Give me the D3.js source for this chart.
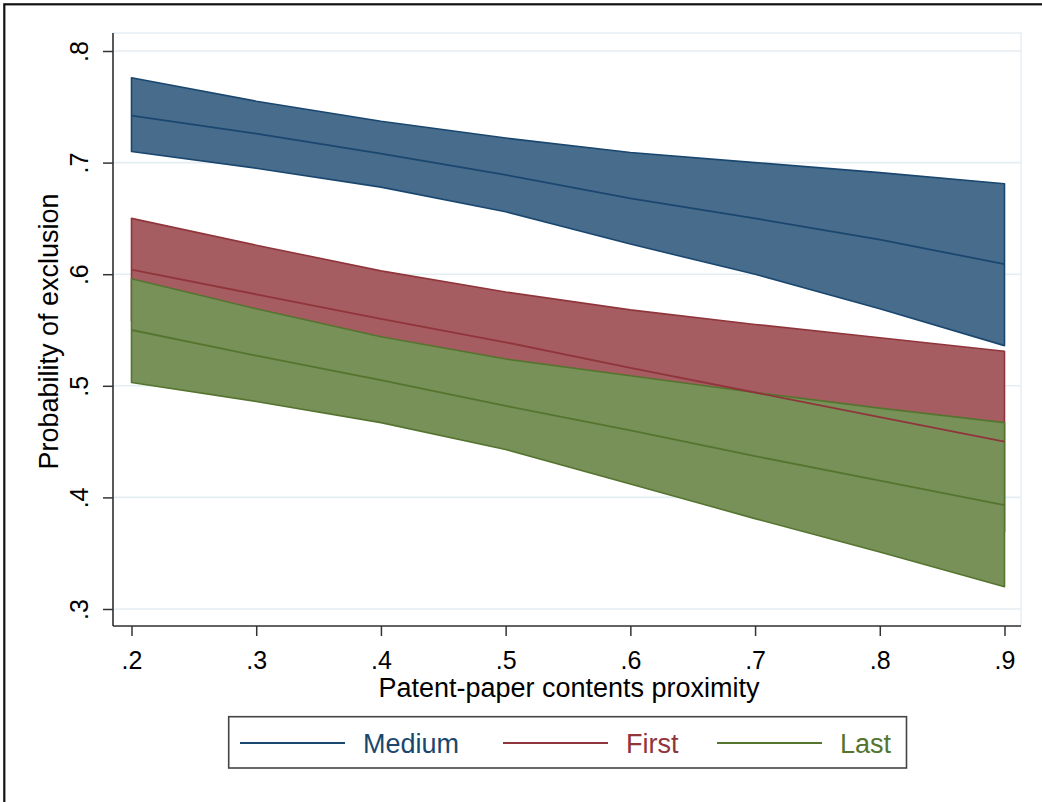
<!DOCTYPE html>
<html>
<head>
<meta charset="utf-8">
<script src="https://cdn.jsdelivr.net/npm/d3@7/dist/d3.min.js"></script>
<style>
  html, body { margin: 0; padding: 0; background: #ffffff; }
  svg { display: block; font-family: "Liberation Sans", Arial, sans-serif; }
</style>
</head>
<body>
<svg id="chart" width="1042" height="802"></svg>
<script>
// Predictive margins of exclusion by author position
const proximity = [0.2, 0.3, 0.4, 0.5, 0.6, 0.7, 0.8, 0.9];

const mediumFit   = [0.742, 0.726, 0.708, 0.689, 0.668, 0.650, 0.631, 0.609];
const mediumUpper = [0.776, 0.755, 0.737, 0.722, 0.709, 0.700, 0.691, 0.681];
const mediumLower = [0.710, 0.695, 0.678, 0.656, 0.627, 0.600, 0.569, 0.536];

const firstFit   = [0.604, 0.582, 0.560, 0.539, 0.516, 0.494, 0.472, 0.450];
const firstUpper = [0.650, 0.626, 0.603, 0.584, 0.568, 0.555, 0.543, 0.531];
const firstLower = [0.558, 0.539, 0.516, 0.494, 0.464, 0.432, 0.399, 0.369];

const lastFit   = [0.550, 0.527, 0.505, 0.482, 0.460, 0.437, 0.415, 0.393];
const lastUpper = [0.596, 0.569, 0.544, 0.524, 0.509, 0.494, 0.480, 0.467];
const lastLower = [0.503, 0.486, 0.467, 0.443, 0.412, 0.381, 0.351, 0.320];

const seriesNames = ["Medium", "First", "Last"];
const lineColors  = ["#1a476f", "#90353b", "#55752f"];
const fillColors  = ["#486c8c", "#a65d62", "#779159"];

const xTicks = [0.2, 0.3, 0.4, 0.5, 0.6, 0.7, 0.8, 0.9];
const yTicks = [0.3, 0.4, 0.5, 0.6, 0.7, 0.8];
const xTitle = "Patent-paper contents proximity";
const yTitle = "Probability of exclusion";

const series = [
  { fit: mediumFit, lo: mediumLower, hi: mediumUpper },
  { fit: firstFit,  lo: firstLower,  hi: firstUpper },
  { fit: lastFit,   lo: lastLower,   hi: lastUpper }
];

const svg = d3.select("#chart");
const region = { left: 113, right: 1021, top: 33, bottom: 626 };

const x = d3.scaleLinear().domain([0.2, 0.9]).range([131.5, 1004.5]);
const y = d3.scaleLinear().domain([0.3, 0.8]).range([609, 51]);
const fmt = v => d3.format(".1f")(v).replace(/^0/, "");

// Outer frame
svg.append("rect")
  .attr("x", 4.3).attr("y", 4.3)
  .attr("width", 1100).attr("height", 900)
  .attr("fill", "none").attr("stroke", "#111").attr("stroke-width", 2.2);

// Plot region outline
svg.append("rect")
  .attr("x", region.left).attr("y", region.top)
  .attr("width", region.right - region.left)
  .attr("height", region.bottom - region.top)
  .attr("fill", "#ffffff").attr("stroke", "#e6eef2").attr("stroke-width", 1.5);

// Gridlines
svg.append("g").selectAll("line").data(yTicks).join("line")
  .attr("x1", region.left).attr("x2", region.right)
  .attr("y1", d => y(d)).attr("y2", d => y(d))
  .attr("stroke", "#e4edf1").attr("stroke-width", 1.6);

// Confidence bands
const band = d3.area()
  .x((d, i) => x(proximity[i]))
  .y0(d => y(d.lo))
  .y1(d => y(d.hi));

series.forEach((s, k) => {
  const pts = proximity.map((p, i) => ({ lo: s.lo[i], hi: s.hi[i] }));
  const g = svg.append("g");
  g.append("path").datum(pts)
    .attr("d", band)
    .attr("fill", fillColors[k]);
  // band outline drawn as a closed polygon
  const outline = proximity.map((p, i) => [x(p), y(s.hi[i])])
    .concat(proximity.slice().reverse().map((p, j) => {
      const i = proximity.length - 1 - j;
      return [x(p), y(s.lo[i])];
    }));
  g.append("path")
    .attr("d", d3.line()(outline) + "Z")
    .attr("fill", "none")
    .attr("stroke", lineColors[k])
    .attr("stroke-width", 1.6)
    .attr("stroke-linejoin", "round");
});

// Fitted lines
const fitLine = d3.line().x((d, i) => x(proximity[i])).y(d => y(d));
series.forEach((s, k) => {
  svg.append("path").datum(s.fit)
    .attr("d", fitLine)
    .attr("fill", "none")
    .attr("stroke", lineColors[k])
    .attr("stroke-width", 1.8);
});

// Y axis
const yAxis = svg.append("g")
  .attr("transform", `translate(${region.left},0)`)
  .call(d3.axisLeft(y).tickValues(yTicks).tickFormat(fmt).tickSize(10).tickSizeOuter(0).tickPadding(8));
yAxis.select(".domain").remove();
yAxis.selectAll(".tick line").attr("stroke", "#333").attr("stroke-width", 1.5);
yAxis.selectAll(".tick text")
  .attr("font-size", 25).attr("fill", "#000")
  .attr("x", null).attr("dy", null)
  .attr("text-anchor", "middle")
  .attr("dominant-baseline", "auto")
  .attr("transform", "translate(-34,0) rotate(-90) translate(0,9)");

svg.append("line")
  .attr("x1", region.left).attr("x2", region.left)
  .attr("y1", region.top).attr("y2", region.bottom)
  .attr("stroke", "#333").attr("stroke-width", 1.6);

// X axis
const xAxis = svg.append("g")
  .attr("transform", `translate(0,${region.bottom})`)
  .call(d3.axisBottom(x).tickValues(xTicks).tickFormat(fmt).tickSize(10).tickSizeOuter(0).tickPadding(15));
xAxis.select(".domain").remove();
xAxis.selectAll(".tick line").attr("stroke", "#333").attr("stroke-width", 1.5);
xAxis.selectAll(".tick text").attr("font-size", 25).attr("fill", "#000");

svg.append("line")
  .attr("x1", region.left).attr("x2", region.right)
  .attr("y1", region.bottom).attr("y2", region.bottom)
  .attr("stroke", "#333").attr("stroke-width", 1.6);

// Axis titles
svg.append("text")
  .attr("x", (region.left + region.right) / 2 + 2)
  .attr("y", 697)
  .attr("text-anchor", "middle")
  .attr("font-size", 27)
  .attr("fill", "#000")
  .text(xTitle);

svg.append("text")
  .attr("transform", `translate(58,${(region.top + region.bottom) / 2 + 2}) rotate(-90)`)
  .attr("text-anchor", "middle")
  .attr("font-size", 27)
  .attr("fill", "#000")
  .text(yTitle);

// Legend
const legend = svg.append("g");
legend.append("rect")
  .attr("x", 228.7).attr("y", 716.7)
  .attr("width", 677.8).attr("height", 51.3)
  .attr("fill", "#fff").attr("stroke", "#444").attr("stroke-width", 1.6);

const legendX = [240, 503, 717];
seriesNames.forEach((name, k) => {
  legend.append("line")
    .attr("x1", legendX[k]).attr("x2", legendX[k] + 105)
    .attr("y1", 743).attr("y2", 743)
    .attr("stroke", lineColors[k]).attr("stroke-width", 2);
  legend.append("text")
    .attr("x", legendX[k] + 123)
    .attr("y", 753)
    .attr("font-size", 27)
    .attr("fill", lineColors[k])
    .text(name);
});
</script>
</body>
</html>
